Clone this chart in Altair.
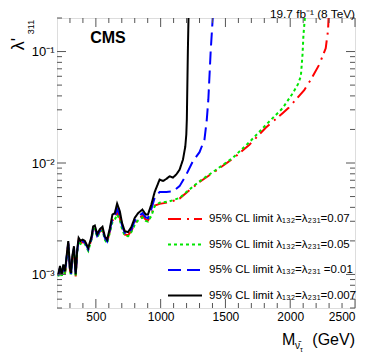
import altair as alt
import pandas as pd

# ---------------- data ----------------
series_labels = [
    "95% CL limit λ₁₃₂=λ₂₃₁=0.07",
    "95% CL limit λ₁₃₂=λ₂₃₁=0.05",
    "95% CL limit λ₁₃₂=λ₂₃₁ =0.01",
    "95% CL limit λ₁₃₂=λ₂₃₁=0.007",
]
series_colors = ["#ff0000", "#00e600", "#0000ff", "#000000"]
series_dash = [[13, 6, 2, 5], [3, 3], [13, 6], [1, 0]]

m_low = [210, 223, 236, 249, 262, 274, 287, 300, 308, 318, 331, 344, 356, 367,
         382, 397, 415, 441, 467, 479, 492, 510, 531, 551, 569, 587, 608, 628,
         646, 664, 685, 702, 723, 749, 774, 800, 826, 859, 885, 902, 928, 954]

# values in units of 1e-3
black_low = [1.00, 1.19, 1.00, 1.23, 1.07, 1.46, 1.99, 1.15, 1.03, 1.46, 1.79, 1.00,
             1.67, 2.13, 2.00, 2.05, 2.00, 1.73, 2.20, 2.70, 2.75, 2.30, 2.55, 2.68,
             2.20, 2.05, 2.60, 3.45, 3.55, 4.32, 3.69, 2.90, 2.44, 2.40, 2.67, 3.22,
             3.55, 3.82, 3.45, 3.45, 4.24, 5.50]
blue_low = [0.98, 1.15, 0.97, 1.19, 1.04, 1.41, 1.92, 1.12, 1.00, 1.41, 1.73, 0.98,
            1.62, 2.06, 1.94, 1.98, 1.94, 1.68, 2.13, 2.61, 2.66, 2.23, 2.47, 2.59,
            2.13, 1.98, 2.50, 3.20, 3.35, 3.85, 3.40, 2.75, 2.36, 2.32, 2.55, 3.02,
            3.30, 3.55, 3.25, 3.20, 3.85, 4.90]
red_low = [0.97, 1.13, 0.95, 1.17, 1.02, 1.39, 1.88, 1.10, 0.98, 1.39, 1.70, 0.96,
           1.60, 2.03, 1.91, 1.95, 1.91, 1.66, 2.10, 2.57, 2.62, 2.20, 2.43, 2.55,
           2.10, 1.94, 2.44, 3.05, 3.20, 3.60, 3.20, 2.62, 2.28, 2.25, 2.45, 2.88,
           3.15, 3.35, 3.10, 3.05, 3.45, 4.15]
green_low = [0.96, 1.12, 0.94, 1.15, 1.00, 1.37, 1.85, 1.08, 0.97, 1.37, 1.67, 0.95,
             1.58, 2.00, 1.88, 1.92, 1.88, 1.63, 2.07, 2.52, 2.57, 2.15, 2.38, 2.50,
             2.05, 1.90, 2.38, 2.95, 3.10, 3.45, 3.08, 2.55, 2.22, 2.20, 2.40, 2.80,
             3.05, 3.25, 3.02, 2.98, 3.35, 4.10]

black_m_high = [992, 1018, 1044, 1069, 1095, 1121, 1146, 1172, 1190, 1198, 1202, 1210, 1215]
black_high = [7.1, 6.9, 7.2, 7.6, 7.4, 7.9, 8.7, 10.7, 14, 18, 24.4, 100, 200]

blue_m_high = [992, 1044, 1095, 1146, 1198, 1249, 1300, 1338, 1356, 1368, 1386, 1402]
blue_high = [5.5, 5.5, 5.57, 6.2, 7.86, 10.4, 12.5, 16.2, 24.4, 37, 100, 200]

green_m_high = [992, 1069, 1146, 1223, 1300, 1428, 1556, 1685, 1813, 1941, 2018,
                2060, 2082, 2095, 2102, 2113]
green_high = [4.4, 4.53, 4.86, 5.8, 6.85, 8.7, 11.1, 15.4, 22.0, 31.0, 42, 51, 60,
              94, 140, 200]

red_m_high = [992, 1069, 1146, 1223, 1300, 1428, 1556, 1685, 1813, 1941, 1990, 2031,
              2108, 2159, 2223, 2274, 2292, 2296]
red_high = [4.3, 4.45, 4.8, 5.7, 6.75, 8.55, 10.9, 14.6, 20.8, 28, 31.5, 35.7, 45,
            56, 76, 107, 155, 200]

x_major = [500, 1000, 1500, 2000, 2500]
x_minor = [300, 400, 600, 700, 800, 900, 1100, 1200, 1300, 1400, 1600, 1700, 1800,
           1900, 2100, 2200, 2300, 2400]
y_major = [0.001, 0.01, 0.1]
y_minor = [0.0005, 0.0006, 0.0007, 0.0008, 0.0009,
           0.002, 0.003, 0.004, 0.005, 0.006, 0.007, 0.008, 0.009,
           0.02, 0.03, 0.04, 0.05, 0.06, 0.07, 0.08, 0.09, 0.2]

# ---------------- build table ----------------
rows = []
for lab, ml, vl, mh, vh in [
    (series_labels[0], m_low, red_low, red_m_high, red_high),
    (series_labels[1], m_low, green_low, green_m_high, green_high),
    (series_labels[2], m_low, blue_low, blue_m_high, blue_high),
    (series_labels[3], m_low, black_low, black_m_high, black_high),
]:
    for i, (m, v) in enumerate(zip(ml + mh, vl + vh)):
        rows.append({"m": m, "v": v * 1e-3, "s": lab, "i": i})
df = pd.DataFrame(rows)

W, H = 298, 290
FONT = "Liberation Sans"

xscale = alt.Scale(domain=[200, 2500], nice=False, zero=False)
yscale = alt.Scale(type="log", domain=[0.0005, 0.2], nice=False)

xaxis = alt.Axis(values=x_major, ticks=False, domain=False, grid=False, format="d",
                 labelFontSize=12, labelFont=FONT, labelColor="#000",
                 labelPadding=3, title=None)
yaxis = alt.Axis(values=y_major, ticks=False, domain=False, grid=False,
                 labelFontSize=13, labelFont=FONT, labelColor="#000",
                 labelPadding=3, title=None,
                 labelExpr="datum.value < 0.005 ? '10⁻³' : datum.value < 0.05 ? '10⁻²' : '10⁻¹'")

leg = alt.Legend(orient="none", legendX=110, legendY=183, title=None,
                 symbolType="stroke", symbolSize=1156, symbolStrokeWidth=2,
                 labelFontSize=11.5, labelFont=FONT, labelColor="#000",
                 labelOffset=6, labelLimit=400, rowPadding=1.5)

lines = alt.Chart(df).mark_line(strokeWidth=2, clip=True).encode(
    x=alt.X("m:Q", scale=xscale, axis=xaxis),
    y=alt.Y("v:Q", scale=yscale, axis=yaxis),
    color=alt.Color("s:N", scale=alt.Scale(domain=series_labels, range=series_colors), legend=leg),
    strokeDash=alt.StrokeDash("s:N", scale=alt.Scale(domain=series_labels, range=series_dash), legend=leg),
    order="i:Q",
)

tick_color = "#555"
xmaj = pd.DataFrame({"t": x_major})
xmin = pd.DataFrame({"t": x_minor})
ymaj = pd.DataFrame({"t": y_major})
ymin = pd.DataFrame({"t": y_minor})

def xt(d, L):
    b = alt.Chart(d).mark_rule(color=tick_color, strokeWidth=1).encode(
        x=alt.X("t:Q", scale=xscale, axis=xaxis), y=alt.value(H), y2=alt.value(H - L))
    t = alt.Chart(d).mark_rule(color=tick_color, strokeWidth=1).encode(
        x=alt.X("t:Q", scale=xscale, axis=xaxis), y=alt.value(0), y2=alt.value(L))
    return b + t

def yt(d, L):
    l = alt.Chart(d).mark_rule(color=tick_color, strokeWidth=1).encode(
        y=alt.Y("t:Q", scale=yscale, axis=yaxis), x=alt.value(0), x2=alt.value(L))
    r = alt.Chart(d).mark_rule(color=tick_color, strokeWidth=1).encode(
        y=alt.Y("t:Q", scale=yscale, axis=yaxis), x=alt.value(W), x2=alt.value(W - L))
    return l + r

def txt(s, x, y, size, **kw):
    return alt.Chart(pd.DataFrame({"a": [0]})).mark_text(
        text=s, fontSize=size, font=FONT, color="#000", **kw).encode(
        x=alt.value(x), y=alt.value(y))

texts = (
    txt("CMS", 51, 25, 16, fontWeight="bold", align="center", baseline="alphabetic")
    + txt("19.7 fb⁻¹ (8 TeV)", W, -0.5, 11.8, align="right", baseline="alphabetic")
    + txt("λ'", -38, 26, 18, angle=270, align="center", baseline="middle")
    + txt("311", -26, 9, 9, angle=270, align="center", baseline="middle")
    + txt("M", 225, 327, 16, align="left", baseline="alphabetic")
    + txt("ν̄", 238, 331, 10, align="left", baseline="alphabetic")
    + txt("τ", 243, 334, 7, align="left", baseline="alphabetic")
    + txt("(GeV)", W, 327, 16, align="right", baseline="alphabetic")
)

chart = alt.layer(
    lines, xt(xmin, 5), xt(xmaj, 9), yt(ymin, 5), yt(ymaj, 9), texts
).properties(
    width=W, height=H,
    autosize=alt.AutoSizeParams(type="none"),
    padding={"left": 49, "top": 10, "right": 11, "bottom": 47},
).configure_view(stroke="#444", strokeWidth=1).configure(background="white")

chart.save("out.html", embed_options={"renderer": "svg", "actions": False})
